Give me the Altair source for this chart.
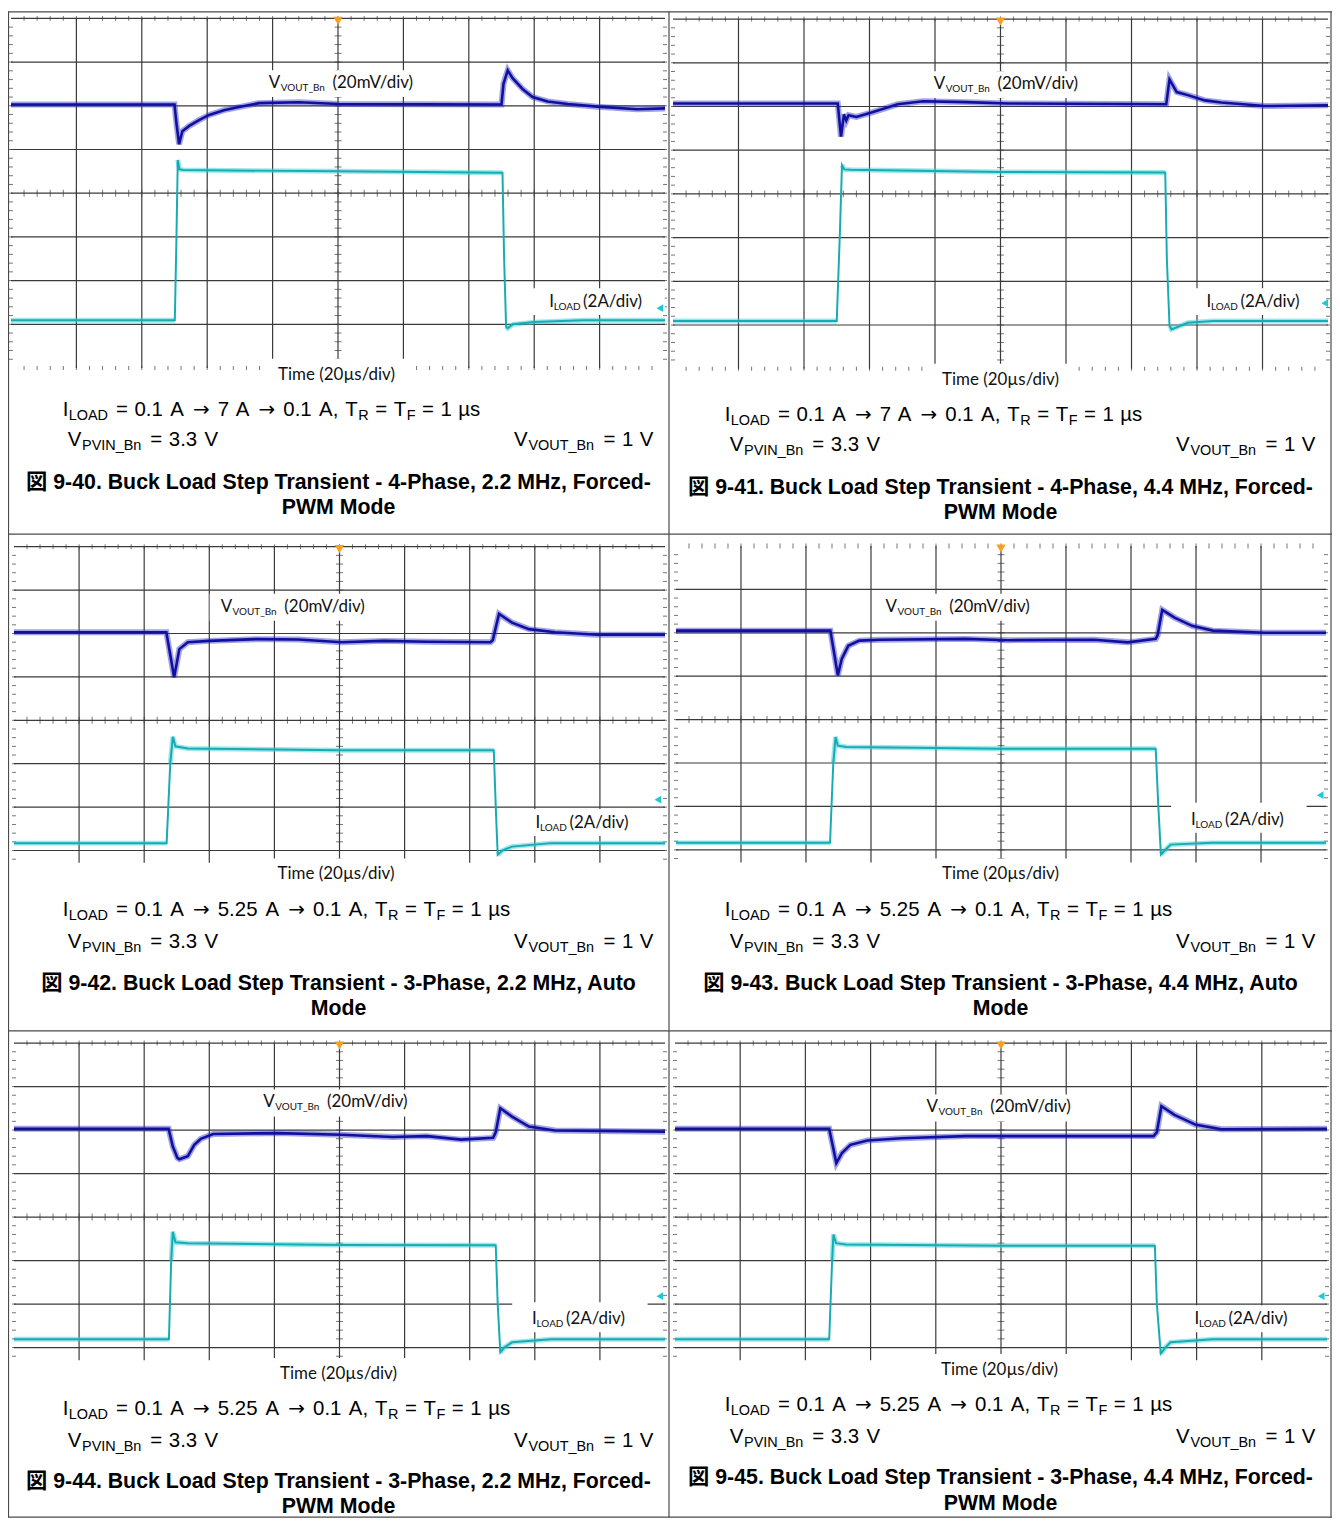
import re
import pandas as pd
import altair as alt

# ---------------- waveform readings ----------------
# (time in µs, 20 µs/div ; vertical position in scope divisions, 0 = bottom graticule line)
P1_V = [(0,6.03),(50.0,6.03),(50.6,5.60),(51.4,5.12),(52.4,5.42),(54.5,5.54),(57.5,5.67),(60.6,5.79),(65.1,5.90),(69.7,5.97),(75.8,6.06),(88.0,6.08),(100.2,6.04),(150.0,6.03),(150.6,6.50),(151.9,6.81),(153.4,6.63),(156.5,6.38),(159.5,6.20),(164.1,6.10),(170.2,6.04),(179.3,5.98),(191.5,5.92),(200,5.94)]
P1_I = [(0,1.09),(50.1,1.09),(50.6,3.0),(51.0,4.76),(51.5,4.55),(52.6,4.53),(100,4.50),(150.3,4.47),(150.8,2.5),(151.4,0.95),(151.9,0.91),(153.5,1.00),(160,1.05),(175,1.09),(200,1.09)]

P2_V = [(0,6.07),(50.3,6.07),(51.3,5.31),(52.2,5.82),(52.9,5.68),(53.6,5.80),(56.0,5.76),(60.6,5.86),(68.6,6.05),(76.4,6.12),(89.4,6.10),(102.4,6.07),(150.6,6.05),(151.6,6.62),(153.8,6.33),(157.2,6.26),(162.4,6.14),(167.4,6.09),(180.6,6.01),(200,6.03)]
P2_I = [(0,1.09),(50.0,1.09),(51.0,3.2),(51.6,4.66),(52.3,4.56),(54.2,4.55),(100,4.50),(150.3,4.49),(150.8,2.5),(151.6,1.0),(152.2,0.90),(157.2,1.05),(165,1.09),(200,1.09)]

P3_V = [(0,6.03),(46.8,6.03),(49.2,4.99),(50.8,5.64),(53.4,5.80),(60.0,5.83),(74.4,5.87),(87.4,5.86),(100.6,5.80),(113.6,5.83),(126.8,5.81),(146.4,5.80),(147.1,5.85),(149.0,6.45),(153.0,6.25),(158.2,6.10),(166.2,6.03),(179.2,5.97),(200,5.97)]
P3_I = [(0,1.17),(46.9,1.17),(48.0,3.0),(48.8,3.62),(49.6,3.40),(53.4,3.35),(100,3.31),(147.4,3.31),(148.0,2.0),(148.6,0.90),(150.0,1.0),(153.0,1.09),(165,1.17),(200,1.17)]

P4_V = [(0,6.05),(47.5,6.05),(49.8,5.02),(51.0,5.40),(53.0,5.70),(56.4,5.82),(62.8,5.84),(89.2,5.86),(102.2,5.83),(128.6,5.84),(139.0,5.78),(147.6,5.86),(148.2,5.95),(149.6,6.53),(153.4,6.35),(158.8,6.16),(165.2,6.05),(181.0,6.00),(200,6.00)]
P4_I = [(0,1.16),(47.4,1.16),(48.4,3.0),(49.1,3.60),(49.8,3.40),(52.4,3.37),(100,3.33),(147.6,3.33),(148.4,2.0),(149.2,0.89),(150.6,1.0),(152.2,1.12),(165,1.16),(200,1.16)]

P5_V = [(0,6.03),(47.5,6.03),(48.8,5.62),(50.2,5.36),(50.8,5.33),(53.4,5.40),(55.4,5.66),(57.4,5.80),(61.2,5.91),(81.0,5.93),(100.6,5.89),(116.4,5.84),(126.8,5.86),(137.4,5.78),(147.2,5.82),(148.0,5.95),(149.4,6.50),(153.0,6.31),(158.2,6.08),(166.2,5.99),(200,5.96)]
P5_I = [(0,1.19),(47.6,1.19),(48.3,3.0),(48.8,3.66),(49.6,3.42),(53.4,3.40),(100,3.36),(148.0,3.35),(148.6,2.0),(149.4,0.89),(150.6,1.0),(153.0,1.12),(165,1.19),(200,1.19)]

P6_V = [(0,6.03),(47.3,6.03),(49.5,5.24),(51.2,5.47),(53.8,5.66),(59.0,5.76),(69.6,5.81),(89.2,5.86),(115.4,5.86),(146.8,5.86),(147.8,5.95),(149.2,6.55),(153.2,6.35),(159.8,6.12),(167.6,6.02),(200,6.03)]
P6_I = [(0,1.19),(47.3,1.19),(48.2,3.0),(48.6,3.60),(49.4,3.40),(52.4,3.37),(100,3.34),(147.2,3.34),(147.8,2.0),(149.0,0.86),(150.4,1.0),(152.0,1.12),(165,1.19),(200,1.19)]

V_TRACES = [P1_V, P2_V, P3_V, P4_V, P5_V, P6_V]
I_TRACES = [P1_I, P2_I, P3_I, P4_I, P5_I, P6_I]

GND_MARKS = [(198.4, 1.37), (199.0, 1.50), (197.8, 2.17), (198.2, 2.26), (198.4, 2.18), (198.2, 2.18)]
TRIGGER_T = 100

LOAD_HIGH = ["7", "7", "5.25", "5.25", "5.25", "5.25"]
CAPTION_1 = [
    "図 9-40. Buck Load Step Transient - 4-Phase, 2.2 MHz, Forced-",
    "図 9-41. Buck Load Step Transient - 4-Phase, 4.4 MHz, Forced-",
    "図 9-42. Buck Load Step Transient - 3-Phase, 2.2 MHz, Auto",
    "図 9-43. Buck Load Step Transient - 3-Phase, 4.4 MHz, Auto",
    "図 9-44. Buck Load Step Transient - 3-Phase, 2.2 MHz, Forced-",
    "図 9-45. Buck Load Step Transient - 3-Phase, 4.4 MHz, Forced-",
]
CAPTION_2 = ["PWM Mode", "PWM Mode", "Mode", "Mode", "PWM Mode", "PWM Mode"]
V_LABEL = ["V", "VOUT_Bn", "(20mV/div)"]
I_LABEL = ["I", "LOAD", "(2A/div)"]
TIME_LABEL = "Time (20µs/div)"

# ---------------- layout (page pixels of the original figure) ----------------
OFF = 8            # page margin: chart origin sits at page (8, 8)
CHART_W, CHART_H = 1330, 1513
GEOM = [
    dict(x0=11, xdiv=65.7, top=15.0, ydiv=43.9, gb=0.0, topline=True,
         v=(270, 85), i=(551.7, 305), ibt=19, t=(338, 378), fx=63, f1=414, f2=445, cx=340, c=(488, 513)),
    dict(x0=676, xdiv=65.8, top=15.7, ydiv=43.9, gb=0.0, topline=True,
         v=(938, 86), i=(1212, 305), ibt=19, t=(1005, 383), fx=728, f1=419, f2=450, cx=1005, c=(493, 518)),
    dict(x0=14, xdiv=65.4, top=545.7, ydiv=43.6, gb=0.72, topline=True,
         v=(221.6, 611), i=(538, 828.3), ibt=19, t=(337.5, 880), fx=63, f1=917, f2=949, cx=340, c=(991, 1016)),
    dict(x0=679, xdiv=65.3, top=545.0, ydiv=43.6, gb=0.71, topline=False,
         v=(889.5, 611), i=(1196.4, 825), ibt=22, t=(1005, 880), fx=728, f1=917, f2=949, cx=1005, c=(991, 1016)),
    dict(x0=14, xdiv=65.4, top=1044.3, ydiv=43.7, gb=0.71, topline=True,
         v=(264.5, 1109), i=(534.5, 1326.7), ibt=22, t=(340, 1381.7), fx=63, f1=1418, f2=1450, cx=340, c=(1491, 1516)),
    dict(x0=678, xdiv=65.5, top=1044.3, ydiv=43.7, gb=0.71, topline=True,
         v=(930.6, 1114), i=(1200, 1326.7), ibt=19, t=(1004, 1377.7), fx=728, f1=1414, f2=1446, cx=1005, c=(1487, 1513)),
]
BORDER_X = [7, 672, 1337]
BORDER_Y = [5, 533, 1032, 1527]

# Liberation Sans (Arial metrics) advance widths, 1/1000 em
ARIAL_W = {' ': 278, '=': 584, '.': 278, ',': 278, 'A': 667, '→': 1000, 'T': 611, 'R': 722,
           'F': 611, 'µ': 576, 's': 500, 'V': 667, 'I': 278, 'L': 556, 'O': 778, 'D': 722,
           'P': 667, 'N': 722, 'U': 722, '_': 556, 'B': 667, 'n': 556}
MAIN_FS, SUB_FS, SUB_DY, STRETCH = 20.5, 14.5, 4, 1.05
ARROW_FS, ARROW_DX = 20, 2.5
FONT = "Liberation Sans, Arial, Noto Sans CJK JP"
GRID_C = "#3a3a3a"


def tw(s, fs):
    return sum(ARIAL_W.get(ch, 556) for ch in s) * fs / 1000.0


def layout(parts, x0, base):
    frags, x = [], x0
    for txt, sub in parts:
        fs = SUB_FS if sub else MAIN_FS
        for piece in re.split(r"( )", txt):
            if not piece:
                continue
            if piece != " ":
                is_arrow = piece == "→"
                frags.append(dict(s=piece, px=x - OFF + (ARROW_DX if is_arrow else 0),
                                  py=base + (SUB_DY if sub else 0) - OFF, fs=fs, arrow=is_arrow))
            x += tw(piece, fs) * STRETCH
    return frags, x - x0


def scales(g):
    xs = alt.Scale(domain=[0, 200], range=[g["x0"] - OFF, g["x0"] - OFF + 10 * g["xdiv"]], nice=False, zero=False)
    ys = alt.Scale(domain=[0, 8], range=[g["top"] - OFF + 8 * g["ydiv"], g["top"] - OFF], nice=False, zero=False)
    return xs, ys


def graticule(k):
    g = GEOM[k]
    xs, ys = scales(g)
    X = lambda f: alt.X(f, scale=xs, axis=None)
    Y = lambda f: alt.Y(f, scale=ys, axis=None)
    gb = g["gb"]
    rules = [dict(t=20 * j, t2=20 * j, y=gb, y2=8) for j in range(1, 10)]
    hl = list(range(1, 8)) + ([8] if g["topline"] else [])
    rules += [dict(t=0, t2=200, y=j, y2=j) for j in hl]
    grid = alt.Chart(pd.DataFrame(rules)).mark_rule(color=GRID_C, strokeWidth=1.2).encode(
        x=X("t:Q"), x2="t2:Q", y=Y("y:Q"), y2="y2:Q")
    steps_t = [4 * n for n in range(1, 50)]
    steps_y = [round(0.2 * n, 2) for n in range(1, 40) if 0.2 * n > gb + 0.05]
    vt = [dict(t=t, y=4, len=7) for t in steps_t] + [dict(t=t, y=8, len=5) for t in steps_t]
    if gb == 0:
        vt += [dict(t=t, y=0, len=4) for t in steps_t]
    ht = [dict(t=100, y=y, len=7) for y in steps_y] + [dict(t=0, y=y, len=4) for y in steps_y] + \
         [dict(t=200, y=y, len=4) for y in steps_y]
    vticks = alt.Chart(pd.DataFrame(vt)).mark_tick(orient="vertical", color=GRID_C, thickness=1).encode(
        x=X("t:Q"), y=Y("y:Q"), size=alt.Size("len:Q", scale=None, legend=None))
    hticks = alt.Chart(pd.DataFrame(ht)).mark_tick(orient="horizontal", color=GRID_C, thickness=1).encode(
        x=X("t:Q"), y=Y("y:Q"), size=alt.Size("len:Q", scale=None, legend=None))
    return [grid, vticks, hticks]


def traces(k):
    g = GEOM[k]
    xs, ys = scales(g)
    X = lambda f: alt.X(f, scale=xs, axis=None)
    Y = lambda f: alt.Y(f, scale=ys, axis=None)
    vdf = pd.DataFrame(V_TRACES[k], columns=["t", "y"])
    idf = pd.DataFrame(I_TRACES[k], columns=["t", "y"])
    seg, segs, prev = 0, [], None
    for y in idf["y"]:
        if prev is not None and abs(y - prev) > 0.8:
            seg += 1
        segs.append(seg)
        prev = y
    idf["seg"] = segs
    v_halo = alt.Chart(vdf).mark_line(color="#3030c4", strokeWidth=6, opacity=0.45).encode(x=X("t:Q"), y=Y("y:Q"))
    v_main = alt.Chart(vdf).mark_line(color="#0f0fa0", strokeWidth=2.6).encode(x=X("t:Q"), y=Y("y:Q"))
    i_halo = alt.Chart(idf).mark_line(color="#3cd0d6", strokeWidth=5, opacity=0.5).encode(
        x=X("t:Q"), y=Y("y:Q"), detail="seg:N")
    i_main = alt.Chart(idf).mark_line(color="#17acb4", strokeWidth=2).encode(x=X("t:Q"), y=Y("y:Q"))
    trig = alt.Chart(pd.DataFrame([dict(t=TRIGGER_T, y=8 - 2.5 / g["ydiv"])])).mark_point(
        shape="triangle-down", filled=True, size=90, color="#f5a020", opacity=1).encode(x=X("t:Q"), y=Y("y:Q"))
    gt, gy = GND_MARKS[k]
    gnd = alt.Chart(pd.DataFrame([dict(t=gt, y=gy)])).mark_point(
        shape="triangle-left", filled=True, size=60, color="#1ec8d8", opacity=1).encode(x=X("t:Q"), y=Y("y:Q"))
    return [v_halo, v_main, i_halo, i_main, trig, gnd]


PX = lambda f: alt.X(f, scale=None, axis=None)
PY = lambda f: alt.Y(f, scale=None, axis=None)

box_rows, lato_rows, time_rows, cond_rows, cap_rows = [], [], [], [], []
for k, g in enumerate(GEOM):
    vx, vb = g["v"]
    ix, ib = g["i"]
    tc, tb = g["t"]
    box_rows += [dict(x1=vx - 11, x2=vx + 152, y1=vb - 18, y2=vb + 9),
                 dict(x1=ix - 20, x2=ix + 116, y1=ib - g["ibt"], y2=ib + 8),
                 dict(x1=tc - 70, x2=tc + 70, y1=tb - 21, y2=tb + 7)]
    lato_rows += [dict(s=V_LABEL[0], px=vx, py=vb, fs=17), dict(s=V_LABEL[1], px=vx + 12, py=vb + 3, fs=10),
                  dict(s=V_LABEL[2], px=vx + 64, py=vb, fs=17),
                  dict(s=I_LABEL[0], px=ix, py=ib, fs=17), dict(s=I_LABEL[1], px=ix + 4.5, py=ib + 3, fs=10),
                  dict(s=I_LABEL[2], px=ix + 34, py=ib, fs=17)]
    time_rows.append(dict(s=TIME_LABEL, px=tc, py=tb))
    line1 = [("I", 0), ("LOAD", 1), (" = 0.1 A → " + LOAD_HIGH[k] + " A → 0.1 A, T", 0), ("R", 1),
             (" = T", 0), ("F", 1), (" = 1 µs", 0)]
    f1, _ = layout(line1, g["fx"], g["f1"])
    f2, _ = layout([("V", 0), ("PVIN_Bn", 1), (" = 3.3 V", 0)], g["fx"] + 5, g["f2"])
    right_parts = [("V", 0), ("VOUT_Bn", 1), (" = 1 V", 0)]
    _, wr = layout(right_parts, 0, 0)
    f3, _ = layout(right_parts, g["fx"] + 594 - wr, g["f2"])
    cond_rows += f1 + f2 + f3
    cap_rows += [dict(s=CAPTION_1[k], px=g["cx"], py=g["c"][0]), dict(s=CAPTION_2[k], px=g["cx"], py=g["c"][1])]

for rows in (box_rows, lato_rows, time_rows, cap_rows):
    for r in rows:
        for key in ("px", "x1", "x2"):
            if key in r:
                r[key] -= OFF
        for key in ("py", "y1", "y2"):
            if key in r:
                r[key] -= OFF

boxes = alt.Chart(pd.DataFrame(box_rows)).mark_rect(color="white").encode(
    x=PX("x1:Q"), x2="x2:Q", y=PY("y1:Q"), y2="y2:Q")
lato_txt = alt.Chart(pd.DataFrame(lato_rows)).mark_text(
    align="left", baseline="alphabetic", font="Lato", color="#111").encode(
    x=PX("px:Q"), y=PY("py:Q"), text="s:N", size=alt.Size("fs:Q", scale=None, legend=None))
time_txt = alt.Chart(pd.DataFrame(time_rows)).mark_text(
    align="center", baseline="alphabetic", font="Lato", fontSize=17, color="#111").encode(
    x=PX("px:Q"), y=PY("py:Q"), text="s:N")
cond_df = pd.DataFrame(cond_rows)
cond_txt = alt.Chart(cond_df[~cond_df["arrow"]]).mark_text(
    align="left", baseline="alphabetic", font=FONT, color="#000").encode(
    x=PX("px:Q"), y=PY("py:Q"), text="s:N", size=alt.Size("fs:Q", scale=None, legend=None))
arrow_txt = alt.Chart(cond_df[cond_df["arrow"]]).mark_text(
    align="left", baseline="alphabetic", font="DejaVu Sans", fontSize=ARROW_FS, color="#000").encode(
    x=PX("px:Q"), y=PY("py:Q"), text="s:N")
cap_txt = alt.Chart(pd.DataFrame(cap_rows)).mark_text(
    align="center", baseline="alphabetic", font=FONT, fontSize=21.4, fontWeight="bold", color="#000").encode(
    x=PX("px:Q"), y=PY("py:Q"), text="s:N")

# table cell borders
bl = []
for bx in BORDER_X:
    xx = min(max(bx - OFF, 0.5), CHART_W - 0.5)
    bl.append(dict(x1=xx, x2=xx, y1=0, y2=CHART_H))
for by in BORDER_Y:
    yy = min(max(by - OFF, 0.5), CHART_H - 0.5)
    bl.append(dict(x1=0, x2=CHART_W, y1=yy, y2=yy))
borders = alt.Chart(pd.DataFrame(bl)).mark_rule(color="#4a4a4a", strokeWidth=1.2).encode(
    x=PX("x1:Q"), x2="x2:Q", y=PY("y1:Q"), y2="y2:Q")

layers = []
for k in range(6):
    layers += graticule(k)
layers.append(boxes)
for k in range(6):
    layers += traces(k)
layers += [lato_txt, time_txt, cond_txt, arrow_txt, cap_txt, borders]

chart = alt.layer(*layers).resolve_scale(x="independent", y="independent").properties(
    width=CHART_W, height=CHART_H, padding=0,
    autosize=alt.AutoSizeParams(type="none")).configure_view(strokeWidth=0)

chart.save("out.html", embed_options={"renderer": "svg", "actions": False})
